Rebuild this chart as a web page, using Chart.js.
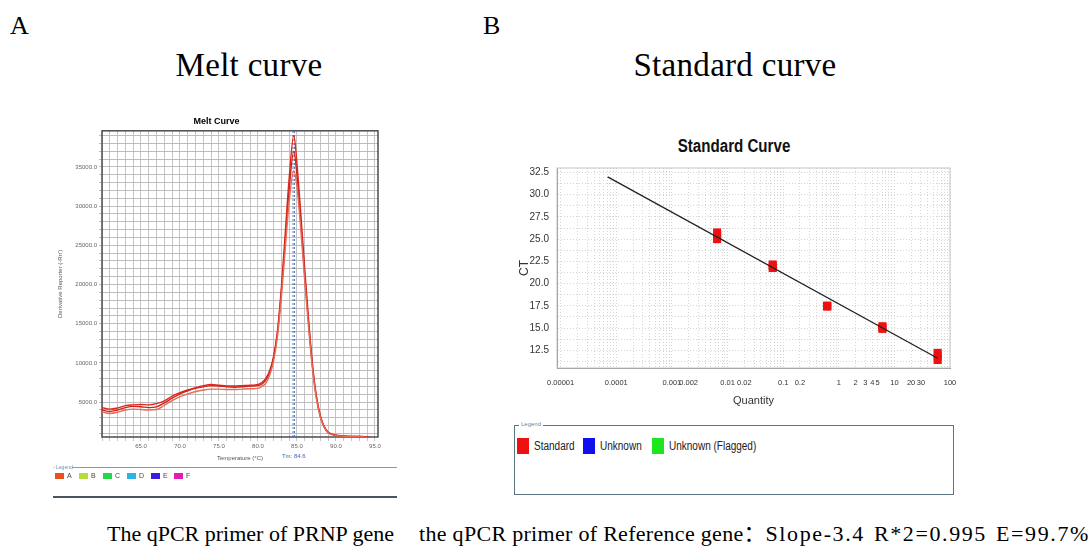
<!DOCTYPE html>
<html><head><meta charset="utf-8">
<script src="https://cdn.jsdelivr.net/npm/chart.js@4.4.1/dist/chart.umd.min.js"></script>
<style>
html,body{margin:0;padding:0;background:#fff;}
body{width:1091px;height:547px;position:relative;overflow:hidden;color:#000;}
.abs{position:absolute;white-space:nowrap;}
.serif{font-family:'Liberation Serif','Times New Roman',serif;line-height:1;}
.sans{font-family:'Liberation Sans',Arial,sans-serif;}
.cond{display:inline-block;transform:scaleX(0.8);transform-origin:left center;}
canvas{position:absolute;}
</style></head><body>

<div class="abs serif" style="left:10px;top:13px;font-size:26px;">A</div>
<div class="abs serif" style="left:483px;top:13px;font-size:26px;">B</div>
<div class="abs serif" style="left:99px;top:49px;width:300px;text-align:center;font-size:33px;letter-spacing:0.3px;">Melt curve</div>
<div class="abs serif" style="left:585px;top:49px;width:300px;text-align:center;font-size:33px;letter-spacing:0.3px;">Standard curve</div>

<canvas id="melt" width="345" height="352" style="left:55px;top:113px;width:345px;height:352px;"></canvas>
<div id="meltLegend"></div>

<div class="abs sans" style="left:634px;top:136px;width:200px;text-align:center;font-size:18px;font-weight:bold;color:#111;"><span style="display:inline-block;transform:scaleX(0.84);transform-origin:center;">Standard Curve</span></div>
<canvas id="std" width="450" height="255" style="left:510px;top:160px;width:450px;height:255px;"></canvas>
<div id="stdLegend"></div>

<div class="abs serif" style="left:107px;top:523px;font-size:22px;">The qPCR primer of PRNP gene</div>
<div class="abs serif" style="left:419px;top:523px;font-size:22px;"><span style="letter-spacing:0.3px;">the qPCR primer of Reference gene</span><span style="font-family:'Noto Sans CJK SC',serif;line-height:0;">：</span><span style="letter-spacing:1.6px;word-spacing:2px;">Slope-3.4 R*2=0.995 E=99.7%</span></div>

<script>
// ---------- Melt curve data ----------
const meltTemps = [60,61,62,63,64,65,66,67,68,69,70,71,72,73,74,75,76,77,78,79,80,80.5,81,81.5,82,82.5,83,83.5,84,84.6,85,85.5,86,86.5,87,87.5,88,88.5,89,90,91,92,93,94,95];
const wellA = [4300,4100,4250,4550,4650,4700,4650,4800,5150,5750,6200,6550,6850,7100,7250,7150,7050,7050,7100,7150,7250,7500,8000,9000,10800,14000,19500,26500,33500,39000,35500,29000,22000,15500,9800,5800,3300,1900,1200,800,700,650,650,550,300];
const wellB = [4000,3800,4000,4300,4450,4400,4300,4400,4900,5500,6050,6450,6750,6950,7100,7050,6950,6900,6950,7050,7100,7300,7800,8800,10600,13800,19000,25500,32000,37000,34000,28000,21200,15000,9500,5600,3200,1800,1100,750,650,600,600,500,300];
const wellC = [3750,3550,3700,4000,4100,4050,4000,4050,4600,5200,5700,6050,6350,6550,6650,6650,6600,6600,6650,6700,6750,7000,7400,8400,10200,13300,18300,24500,30500,34500,32500,27000,20500,14500,9200,5400,3100,1800,1100,750,650,600,600,500,300];
const tmMarks = [84.5, 84.7];
const tmLabel = 'Tm: 84.6';
const meltXTicks = [65,70,75,80,85,90,95];
const meltYTicks = [5000,10000,15000,20000,25000,30000,35000];
const meltWells = ['A','B','C','D','E','F'];
const meltWellColors = ['#e8501e','#b8dc38','#22d84a','#28b4e6','#3a1ee0','#e01cb4'];

// ---------- Standard curve data ----------
const stdQty = [0.0065, 0.065, 0.62, 6.1, 60];
const stdCtRep1 = [25.0, 21.75, 17.4, 14.9, 11.4];
const stdCtRep2 = [25.35, 21.95, 17.5, 15.05, 11.8];
const stdCtRep3 = [25.75, 22.15, 17.5, 15.2, 12.2];
const fitQty = [0.00007, 60];
const fitCt = [32.0, 11.6];
const stdXLabels = [0.00001,0.0001,0.001,0.002,0.01,0.02,0.1,0.2,1,2,3,4,5,10,20,30,100];
const stdYLabels = [12.5,15,17.5,20,22.5,25,27.5,30,32.5];
const stdLegendNames = ['Standard','Unknown','Unknown (Flagged)'];
const stdLegendColors = ['#ee1111','#1010ee','#1ee61e'];

const pts = (xs, ys) => xs.map((x, i) => ({x: x, y: ys[i]}));
const near = (a, b) => Math.abs(a - b) < 1e-9 * Math.max(1, Math.abs(b));

// regular ticks at exact multiples of a step (for the grid)
function stepTicks(step) {
  return s => {
    const out = [];
    const k0 = Math.ceil(s.min / step - 1e-9), k1 = Math.floor(s.max / step + 1e-9);
    for (let k = k0; k <= k1; k++) out.push({value: Math.round(k * step * 1e6) / 1e6});
    s.ticks = out;
  };
}

function framePlugin(color, width) {
  return {
    id: 'frame' + color.replace('#',''),
    beforeDatasetsDraw(chart) {
      const a = chart.chartArea, c = chart.ctx;
      c.save(); c.strokeStyle = color; c.lineWidth = width;
      c.strokeRect(a.left, a.top, a.right - a.left, a.bottom - a.top);
      c.restore();
    }
  };
}

const meltMin = 550, meltMax = 39600;
const tmTextPlugin = {
  id: 'tmText',
  afterDraw(chart) {
    const c = chart.ctx, xs = chart.scales.x;
    c.save();
    c.fillStyle = '#3c64b4';
    c.font = '6px "Liberation Sans", Arial';
    c.textAlign = 'center'; c.textBaseline = 'middle';
    c.fillText(tmLabel, xs.getPixelForValue((tmMarks[0] + tmMarks[1]) / 2), xs.bottom - 9);
    c.restore();
  }
};

const smallFont = {family: '"Liberation Sans", Arial', size: 6};
const lineBase = {pointRadius: 0, borderWidth: 1.4, fill: false, cubicInterpolationMode: 'monotone'};

new Chart(document.getElementById('melt'), {
  type: 'line',
  data: {datasets: [
    Object.assign({data: pts(meltTemps, wellC), borderColor: '#ea6a58'}, lineBase),
    Object.assign({data: pts(meltTemps, wellB), borderColor: '#c8281e'}, lineBase),
    Object.assign({data: pts(meltTemps, wellA), borderColor: '#e2261c'}, lineBase),
    ...tmMarks.map(t => ({data: [{x: t, y: meltMin}, {x: t, y: meltMax}], borderColor: '#4a6cb4', borderWidth: 0.9, borderDash: [2, 2], pointRadius: 0}))
  ]},
  options: {
    responsive: false, animation: false,
    layout: {padding: {left: 0, right: 22, top: 0, bottom: 0}},
    plugins: {
      legend: {display: false}, tooltip: {enabled: false},
      title: {display: true, text: 'Melt Curve', color: '#000', font: {family: '"Liberation Sans", Arial', size: 9, weight: 'bold'}, padding: {top: 3, bottom: 4}}
    },
    scales: {
      x: {
        type: 'linear', min: 60, max: 95.4,
        afterFit: s => { s.height = 28; },
        afterBuildTicks: stepTicks(1),
        ticks: {autoSkip: false, maxRotation: 0, font: smallFont, color: '#666', padding: 2,
          callback: v => meltXTicks.some(t => near(v, t)) ? Number(v).toFixed(1) : ''},
        grid: {color: '#c4c4c4', tickLength: 4},
        border: {display: false},
        title: {display: true, text: 'Temperature (°C)', font: smallFont, color: '#555', padding: {top: 0, bottom: 3.5}}
      },
      y: {
        min: meltMin, max: meltMax,
        afterFit: s => { s.width = 47; },
        afterBuildTicks: stepTicks(1000),
        ticks: {autoSkip: false, font: smallFont, color: '#666', padding: 2,
          callback: v => meltYTicks.some(t => near(v, t)) ? Number(v).toFixed(1) : ''},
        grid: {color: '#bdbdbd', tickLength: 3},
        border: {display: false},
        title: {display: true, text: "Derivative Reporter (-Rn')", font: smallFont, color: '#555', padding: {top: 1.5, bottom: 0}}
      }
    }
  },
  plugins: [framePlugin('#4d4d4d', 1.5), tmTextPlugin]
});

// Melt legend (HTML)
(function () {
  const root = document.getElementById('meltLegend');
  let html = '<div class="abs" style="left:72px;top:467px;width:325px;height:0;border-top:1px solid #8a9aa4;"></div>' +
    '<div class="abs sans" style="left:53px;top:464px;font-size:5px;color:#7090a8;">- Legend</div>' +
    '<div class="abs" style="left:53px;top:496px;width:344px;height:0;border-top:2px solid #4a555e;"></div>';
  const xs = [55, 79, 103, 127, 151, 174];
  meltWells.forEach((w, i) => {
    html += '<div class="abs" style="left:' + xs[i] + 'px;top:473px;width:9px;height:6px;background:' + meltWellColors[i] + ';"></div>' +
      '<div class="abs sans" style="left:' + (xs[i] + 12) + 'px;top:472px;font-size:7px;color:#444;">' + w + '</div>';
  });
  root.innerHTML = html;
})();

// ---------- Standard curve ----------
const sansFam = '"Liberation Sans", Arial';
const repStyle = {pointStyle: 'rect', pointRadius: 5.7, backgroundColor: '#ee1111', borderColor: '#ee1111', borderWidth: 0};

new Chart(document.getElementById('std'), {
  type: 'scatter',
  data: {datasets: [
    {type: 'line', data: pts(fitQty, fitCt), borderColor: '#222', borderWidth: 1.3, pointRadius: 0, showLine: true, fill: false},
    Object.assign({data: pts(stdQty, stdCtRep1)}, repStyle),
    Object.assign({data: pts(stdQty, stdCtRep2)}, repStyle),
    Object.assign({data: pts(stdQty, stdCtRep3)}, repStyle)
  ]},
  options: {
    responsive: false, animation: false,
    layout: {padding: {left: 0, right: 10, top: 8, bottom: 0}},
    plugins: {legend: {display: false}, tooltip: {enabled: false}},
    scales: {
      x: {
        type: 'logarithmic', min: 8.6e-6, max: 100,
        afterFit: s => { s.height = 47; s.paddingLeft = 0; s.paddingRight = 0; },
        afterBuildTicks: s => {
          s.ticks = s.ticks.filter(t => {
            const e = Math.floor(Math.log10(t.value) + 1e-9);
            const m = t.value / Math.pow(10, e);
            return Math.abs(m - Math.round(m)) < 1e-6 && t.value >= 9.99e-6;
          });
        },
        ticks: {autoSkip: false, maxRotation: 0, font: {family: sansFam, size: 7.5}, color: '#333', padding: 10,
          callback: v => { const f = stdXLabels.find(l => near(v, l)); return f === undefined ? '' : String(f); }},
        grid: {color: '#d6d6d6', drawTicks: false},
        border: {display: true, color: '#8a8a8a', width: 1, dash: [1, 2]},
        title: {display: true, text: 'Quantity', font: {family: sansFam, size: 11}, color: '#333', padding: {top: 0, bottom: 7}}
      },
      y: {
        min: 10.5, max: 33,
        afterFit: s => { s.width = 47; s.paddingTop = 0; s.paddingBottom = 0; },
        afterBuildTicks: stepTicks(1.25),
        ticks: {autoSkip: false, font: {family: sansFam, size: 10}, color: '#333', padding: 8,
          callback: v => stdYLabels.some(l => near(v, l)) ? Number(v).toFixed(1) : ''},
        grid: {color: '#d6d6d6', drawTicks: false},
        border: {display: true, color: '#8a8a8a', width: 1, dash: [1, 2]},
        title: {display: true, text: 'CT', font: {family: sansFam, size: 12}, color: '#333', padding: {top: 7, bottom: 0}}
      }
    }
  },
  plugins: [framePlugin('#c4c4c4', 1)]
});

// Standard legend (HTML)
(function () {
  const root = document.getElementById('stdLegend');
  let html = '<div class="abs" style="left:514px;top:425px;width:440px;height:70px;border:1.5px solid #5a7482;box-sizing:border-box;"></div>' +
    '<div class="abs sans" style="left:519px;top:421px;font-size:6px;color:#6a8aa0;background:#fff;padding:0 2px;">Legend</div>';
  const boxX = [517, 583, 652];
  stdLegendNames.forEach((n, i) => {
    html += '<div class="abs" style="left:' + boxX[i] + 'px;top:438px;width:12px;height:16px;background:' + stdLegendColors[i] + ';"></div>' +
      '<div class="abs sans" style="left:' + (boxX[i] + 17) + 'px;top:438px;font-size:12.5px;line-height:16px;color:#222;"><span class="cond">' + n + '</span></div>';
  });
  root.innerHTML = html;
})();
</script>
</body></html>
